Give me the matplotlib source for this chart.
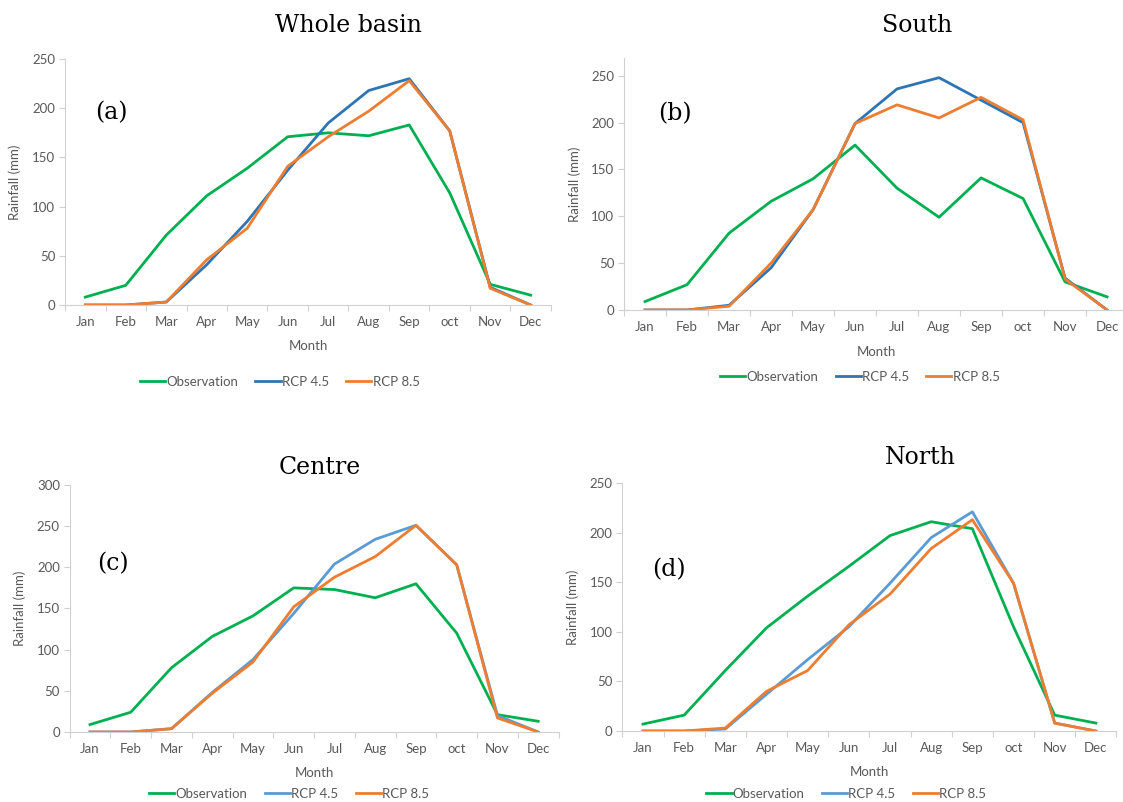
import numpy as np
import matplotlib
matplotlib.use("Agg")
import matplotlib.pyplot as plt

months = ["Jan", "Feb", "Mar", "Apr", "May", "Jun", "Jul", "Aug", "Sep", "oct", "Nov", "Dec"]

# Whole basin (a)
whole_obs = [8, 20, 71, 111, 139, 171, 175, 172, 183, 114, 21, 10]
whole_rcp45 = [0, 0, 3, 41, 85, 137, 185, 218, 230, 177, 18, 0]
whole_rcp85 = [0, 0, 3, 46, 78, 141, 171, 197, 228, 177, 17, 0]

# South (b)
south_obs = [9, 27, 82, 116, 140, 176, 130, 99, 141, 119, 30, 14]
south_rcp45 = [0, 0, 5, 45, 107, 199, 236, 248, 224, 200, 34, 0]
south_rcp85 = [0, 0, 4, 50, 107, 199, 219, 205, 227, 203, 33, 0]

# Centre (c)
centre_obs = [9, 24, 78, 116, 141, 175, 173, 163, 180, 120, 21, 13]
centre_rcp45 = [0, 0, 4, 48, 88, 144, 204, 234, 251, 203, 20, 0]
centre_rcp85 = [0, 0, 4, 47, 85, 152, 188, 213, 251, 203, 17, 0]

# North (d)
north_obs = [7, 16, 61, 104, 136, 166, 197, 211, 204, 105, 16, 8]
north_rcp45 = [0, 0, 2, 37, 72, 105, 149, 195, 221, 149, 8, 0]
north_rcp85 = [0, 0, 3, 40, 61, 107, 138, 184, 213, 149, 8, 0]

GREEN = "#00b050"
ORANGE = "#ed7d31"
GREY = "#595959"
SPINE = "#d0d0d0"

panels = [
    # title, letter, obs, rcp45, rcp85, blue, axes rect, ytop, title pos (px),
    # letter pos, legend pos, month y, ylabel x
    ("Whole basin", "(a)", whole_obs, whole_rcp45, whole_rcp85, "#2e75b6",
     [0.0579, 0.6197, 0.4327, 0.3067], 250, (348, 25), (0.062, 0.78), (0.442, -0.313), -0.142, -0.09),
    ("South", "(b)", south_obs, south_rcp45, south_rcp85, "#2e75b6",
     [0.5557, 0.6135, 0.4488, 0.3142], 269, (917, 25), (0.067, 0.78), (0.468, -0.266), -0.143, -0.085),
    ("Centre", "(c)", centre_obs, centre_rcp45, centre_rcp85, "#5b9bd5",
     [0.0620, 0.0873, 0.4354, 0.3080], 300, (320, 467), (0.056, 0.68), (0.449, -0.251), -0.142, -0.089),
    ("North", "(d)", north_obs, north_rcp45, north_rcp85, "#5b9bd5",
     [0.5542, 0.0885, 0.4400, 0.3092], 250, (920, 458), (0.061, 0.65), (0.453, -0.254), -0.141, -0.087),
]

W, H = 1123, 802
fig = plt.figure(figsize=(W / 100, H / 100), dpi=100)
x = np.arange(len(months))

for title, letter, obs, r45, r85, blue, rect, ytop, tpos, lpos, legpos, month_y, ylab_x in panels:
    ax = fig.add_axes(rect)
    ax.plot(x, obs, color=GREEN, lw=2.0, label="Observation")
    ax.plot(x, r45, color=blue, lw=2.0, label="RCP 4.5")
    ax.plot(x, r85, color=ORANGE, lw=2.0, label="RCP 8.5")

    ax.set_xlim(-0.5, len(months) - 0.5)
    ax.set_ylim(0, ytop)
    ax.set_yticks(np.arange(0, ytop + 1, 50))
    ax.set_xticks(x)
    ax.set_xticklabels(months)
    ax.set_xticks(np.arange(-0.5, len(months), 1), minor=True)
    ax.tick_params(axis="x", which="major", length=0, pad=8, labelsize=9.5, labelcolor=GREY)
    ax.tick_params(axis="x", which="minor", length=4, color=SPINE, width=0.8)
    ax.tick_params(axis="y", length=4, color=SPINE, width=0.8, labelsize=9.5, labelcolor=GREY, pad=3)
    for lab in ax.get_xticklabels() + ax.get_yticklabels():
        lab.set_family("Lato")

    for s in ["top", "right"]:
        ax.spines[s].set_visible(False)
    ax.spines["left"].set_color(SPINE)
    ax.spines["bottom"].set_color(SPINE)
    ax.spines["left"].set_linewidth(0.8)
    ax.spines["bottom"].set_linewidth(0.8)

    ax.set_ylabel("Rainfall (mm)", fontsize=9.5, color=GREY, family="Lato")
    ax.yaxis.set_label_coords(ylab_x, 0.5)
    ax.set_xlabel("Month", fontsize=9.5, color=GREY, family="Lato")
    ax.xaxis.set_label_coords(0.5, month_y)

    ax.text(lpos[0], lpos[1], letter, transform=ax.transAxes, fontsize=17,
            family="DejaVu Serif", va="center", ha="left")
    fig.text(tpos[0] / W, 1 - tpos[1] / H, title, fontsize=17, family="DejaVu Serif",
             ha="center", va="center")

    ax.legend(loc="center", bbox_to_anchor=legpos, ncol=3, frameon=False,
              prop={"family": "Lato", "size": 9.5}, labelcolor=GREY,
              handlelength=1.9, handletextpad=0.1, columnspacing=1.3)

fig.savefig("out.png", dpi=100)
